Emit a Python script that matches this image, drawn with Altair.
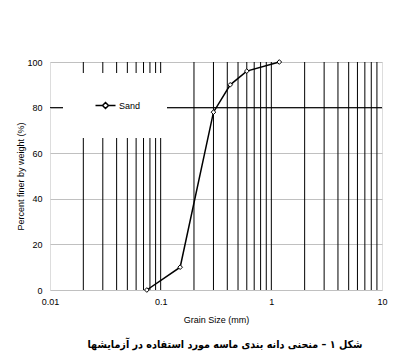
import altair as alt
import pandas as pd

grain_size = [0.075, 0.15, 0.3, 0.425, 0.6, 1.18]
percent_finer = [0, 10, 78, 90, 96, 100]
series = ["Sand"] * len(grain_size)

x_labels = [0.01, 0.1, 1, 10]
v_grid = [0.02, 0.03, 0.04, 0.05, 0.06, 0.07, 0.08, 0.09, 0.1,
          0.2, 0.3, 0.4, 0.5, 0.6, 0.7, 0.8, 0.9, 1,
          2, 3, 4, 5, 6, 7, 8, 9]
y_ticks = [0, 20, 40, 60, 80, 100]
dark_h = [80]

caption = "شکل ۱ – منحنی دانه بندی ماسه مورد استفاده در آزمایشها"

df = pd.DataFrame({"size": grain_size, "pct": percent_finer, "series": series})
vg = pd.DataFrame({"v": v_grid})
hg = pd.DataFrame({"h": dark_h})

xs = alt.Scale(type="log", domain=[0.01, 10])
ys = alt.Scale(domain=[0, 100])

vrules = alt.Chart(vg).mark_rule(color="black", strokeWidth=1).encode(
    x=alt.X("v:Q", scale=xs)
)
hrules = alt.Chart(hg).mark_rule(color="black", strokeWidth=1).encode(
    y=alt.Y("h:Q", scale=ys)
)

legend_symbol = "M0,0H1.27M2.37,0H3.64M1.27,0L1.82,-0.55L2.37,0L1.82,0.55Z"

line = alt.Chart(df).mark_line(
    strokeWidth=1.5,
    point=alt.OverlayMarkDef(shape="diamond", filled=True, fill="white",
                             strokeWidth=1, size=22)
).encode(
    x=alt.X("size:Q", scale=xs, title="Grain Size (mm)",
            axis=alt.Axis(values=x_labels, labelExpr="format(datum.value, '~g')",
                          grid=False, ticks=False, domain=False, labelFlush=False,
                          labelFont="Liberation Sans", labelFontSize=9,
                          labelColor="black", titleFont="Liberation Sans",
                          titleFontSize=9, titleFontWeight="normal",
                          titleColor="black", labelPadding=7, titlePadding=9)),
    y=alt.Y("pct:Q", scale=ys, title="Percent finer by weight (%)",
            axis=alt.Axis(values=y_ticks, grid=True, gridColor="#c0c0c0",
                          ticks=False, domain=False, labelFlush=False,
                          labelFont="Liberation Sans", labelFontSize=9,
                          labelColor="black", titleFont="Liberation Sans",
                          titleFontSize=9, titleFontWeight="normal",
                          titleColor="black", labelPadding=8, titlePadding=1)),
    stroke=alt.Stroke("series:N", scale=alt.Scale(domain=["Sand"], range=["black"]),
                      legend=alt.Legend(title=None, orient="none", legendX=13, legendY=11,
                                        fillColor="white", padding=26,
                                        symbolType=legend_symbol, symbolSize=121,
                                        symbolStrokeColor="black", symbolFillColor="white",
                                        symbolStrokeWidth=1.5, labelFont="Liberation Sans",
                                        labelFontSize=9, labelColor="black", labelOffset=17)),
)

chart = alt.layer(vrules, hrules, line).properties(
    width=332, height=228,
    title=alt.TitleParams(caption, orient="bottom", font="DejaVu Sans Condensed", fontSize=10.7,
                          fontWeight="bold", color="black", offset=16, anchor="middle", dx=9),
    autosize=alt.AutoSizeParams(type="none"),
    padding={"left": 50, "top": 62, "right": 12, "bottom": 70},
).configure_view(stroke="black", strokeWidth=1.2).configure(background="white")

chart.save("out.html", embed_options={"renderer": "svg", "actions": False})
